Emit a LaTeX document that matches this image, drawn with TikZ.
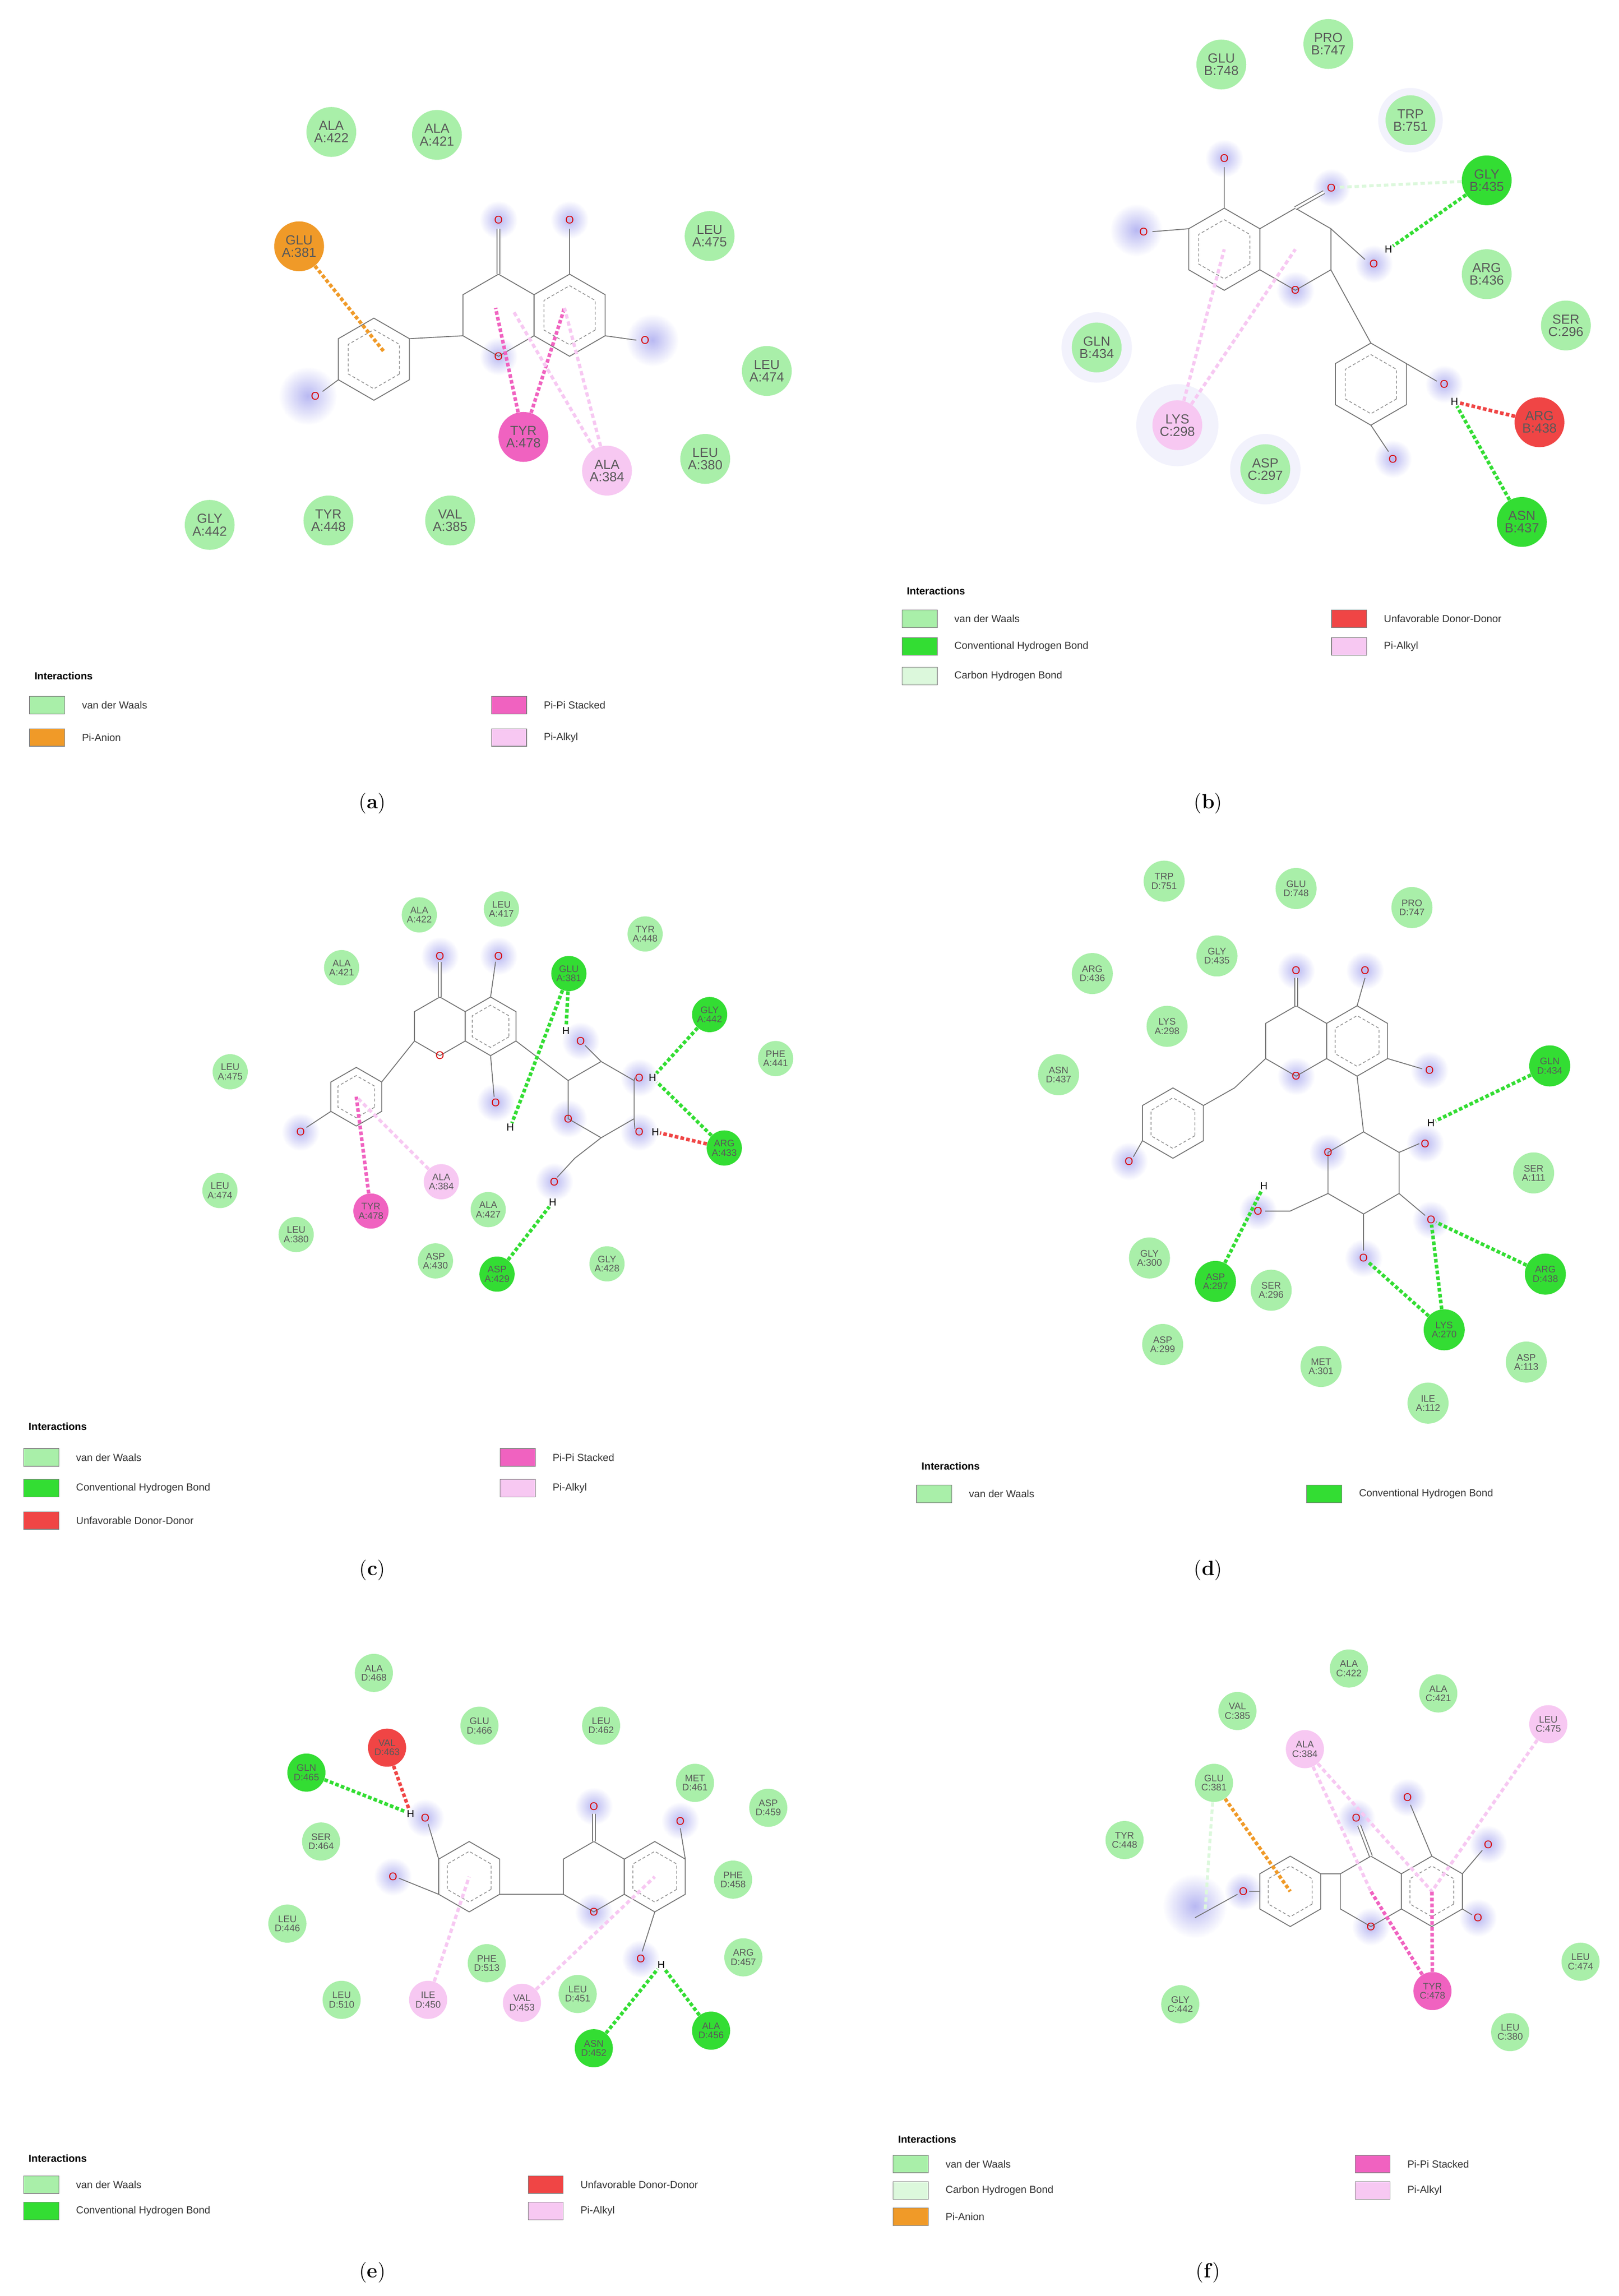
\documentclass[tikz,border=0pt]{standalone}
\usepackage{fontspec}
\setsansfont{Liberation Sans}
\usetikzlibrary{calc}
\definecolor{vdwc}{HTML}{A9EFA9}
\definecolor{hbc}{HTML}{33DD33}
\definecolor{chbc}{HTML}{DCF8DC}
\definecolor{pialk}{HTML}{F7C8F2}
\definecolor{pipi}{HTML}{F062C0}
\definecolor{anion}{HTML}{F09A28}
\definecolor{unfav}{HTML}{F04545}
\definecolor{halo}{HTML}{B8B8F2}
\tikzset{
 res/.style={circle,inner sep=0pt,minimum size=34pt,align=center,text=black!65,font=\sffamily\fontsize{9}{8.5}\selectfont},
 rs/.style={res,minimum size=#1pt,font=\sffamily\fontsize{6.5}{6.3}\selectfont},
 vdw/.style={fill=vdwc}, hb/.style={fill=hbc}, pa/.style={fill=pialk}, pp/.style={fill=pipi},
 an/.style={fill=anion}, uf/.style={fill=unfav}, ch/.style={fill=chbc},
 mol/.style={draw=black!55,line width=0.6pt},
 arom/.style={draw=black!45,line width=0.5pt,dash pattern=on 2pt off 1.5pt},
 atom/.style={text=red!85!black,font=\sffamily\fontsize{7.5}{7.5}\selectfont,inner sep=0.4pt},
 hat/.style={text=black,font=\sffamily\fontsize{7}{7}\selectfont,inner sep=0.4pt},
 lhb/.style={hbc,line width=2.4pt,dash pattern=on 2.5pt off 1.5pt},
 luf/.style={unfav,line width=2.4pt,dash pattern=on 2.5pt off 1.5pt},
 lpp/.style={pipi,line width=2.4pt,dash pattern=on 2.5pt off 1.5pt},
 lpa/.style={pialk,line width=2.2pt,dash pattern=on 3pt off 2pt},
 lan/.style={anion,line width=2.4pt,dash pattern=on 2.5pt off 1.5pt},
 lch/.style={chbc,line width=2pt,dash pattern=on 3pt off 2pt},
 legbox/.style={draw=black!50,minimum width=24pt,minimum height=12pt,inner sep=0pt,anchor=west},
 legtxt/.style={anchor=west,font=\sffamily\fontsize{7}{7}\selectfont,text=black!80},
 leghead/.style={anchor=west,font=\sffamily\bfseries\fontsize{7}{7}\selectfont},
 capt/.style={font=\fontsize{14}{14}\selectfont},
 glow/.style={inner color=halo,outer color=white}
}
\newcommand\ring[5]{\coordinate (#1) at (#2,#3);
 \draw[mol,shift={(#2,#3)}] (30:#4)--(90:#4)--(150:#4)--(210:#4)--(270:#4)--(330:#4)--cycle;
 \ifnum#5=1 \draw[arom,shift={(#2,#3)}] (30:{#4*0.72})--(90:{#4*0.72})--(150:{#4*0.72})--(210:{#4*0.72})--(270:{#4*0.72})--(330:{#4*0.72})--cycle;\fi}
\newcommand\hal[2]{\shade[glow] (#1,#2) circle (13);}
\newcommand\at[4]{\node[atom] (#1) at (#2,#3) {#4};}
\newcommand\hh[3]{\node[hat] (#1) at (#2,#3) {H};}
\newcommand\leg[4]{\node[legbox,fill=#3] (#1) at (#2) {}; \node[legtxt] (#1t) at ($(#1.east)+(8,0)$) {#4};}
\begin{document}
\begin{tikzpicture}[x=1pt,y=-1pt]
\useasboundingbox[fill=white] (0,0) rectangle (1104,1566);
% ================= (a)
\shade[glow] (210,270) circle (20); \shade[glow] (445,232) circle (18);
\foreach \x/\y in {340/150,388.5/150,340/243} {\hal{\x}{\y}}
\ring{aP}{255}{245}{28}{1}
\ring{aC}{340}{215}{28}{0}
\ring{aA}{388.5}{215}{28}{1}
\draw[mol] (279.2,231)--(315.8,229);
\draw[mol,double,double distance=1.5pt] (340,187)--(340,156);
\draw[mol] (388.5,187)--(388.5,156) (412.7,229)--(434,232) (230.8,259)--(220,267);
\at{aO1}{340}{150}{O}\at{aO2}{388.5}{150}{O}\at{aO3}{440}{232}{O}\at{aO4}{215}{270}{O}\at{aO5}{340}{243}{O}
\coordinate (aT1) at (262,240); \coordinate (aT2) at (338,210); \coordinate (aT3) at (385,210); \coordinate (aT4) at (350,212);
\node[res,vdw] (a422) at (226,90) {ALA\\A:422};
\node[res,vdw] (a421) at (298,92) {ALA\\A:421};
\node[res,an] (a381) at (204,168) {GLU\\A:381};
\node[res,vdw] (a475) at (484,161) {LEU\\A:475};
\node[res,vdw] (a474) at (523,253) {LEU\\A:474};
\node[res,vdw] (a380) at (481,313) {LEU\\A:380};
\node[res,pp] (a478) at (357,298) {TYR\\A:478};
\node[res,pa] (a384) at (414,321) {ALA\\A:384};
\node[res,vdw] (a442) at (143,358) {GLY\\A:442};
\node[res,vdw] (a448) at (224,355) {TYR\\A:448};
\node[res,vdw] (a385) at (307,355) {VAL\\A:385};
\draw[lan] (a381)--(aT1);
\draw[lpp] (a478)--(aT2); \draw[lpp] (a478)--(aT3);
\draw[lpa] (a384)--(aT3); \draw[lpa] (a384)--(aT4);
\node[leghead] (aI) at (20,461) {Interactions};
\leg{aL1}{20,481}{vdwc}{van der Waals}
\leg{aL2}{20,503}{anion}{Pi-Anion}
\leg{aL3}{335,481}{pipi}{Pi-Pi Stacked}
\leg{aL4}{335,503}{pialk}{Pi-Alkyl}
\node[capt] (capa) at (254,548) {(\textbf{a})};
% ================= (b)
\fill[halo,opacity=0.18] (962,82) circle (22); \fill[halo,opacity=0.18] (748,237) circle (24);
\fill[halo,opacity=0.18] (803,290) circle (28); \fill[halo,opacity=0.18] (863,320) circle (24);
\shade[glow] (775,157) circle (18);
\foreach \x/\y in {835/108,908/128,937/180,883.5/198,985/262,950/313} {\hal{\x}{\y}}
\ring{bA}{835}{170}{28}{1}
\ring{bC}{883.5}{170}{28}{0}
\ring{bP}{935}{262}{28}{1}
\draw[mol] (835,142)--(835,114) (810.8,156)--(786,158);
\draw[mol,double,double distance=1.5pt] (883.5,142)--(903,131);
\draw[mol] (907.7,156)--(931,177) (907.7,184)--(935,234) (959.2,248)--(980,260) (935,290)--(947,308);
\at{bO1}{835}{108}{O}\at{bO2}{780}{158}{O}\at{bO3}{908}{128}{O}\at{bO4}{937}{180}{O}\at{bO5}{883.5}{198}{O}\at{bO6}{985}{262}{O}\at{bO7}{950}{313}{O}
\hh{bH1}{947}{170}\hh{bH2}{992}{274}
\node[res,vdw] (b748) at (833,44) {GLU\\B:748};
\node[res,vdw] (b747) at (906,30) {PRO\\B:747};
\node[res,vdw] (b751) at (962,82) {TRP\\B:751};
\node[res,hb] (b435) at (1014,123) {GLY\\B:435};
\node[res,vdw] (b436) at (1014,187) {ARG\\B:436};
\node[res,vdw] (c296) at (1068,222) {SER\\C:296};
\node[res,vdw] (b434) at (748,237) {GLN\\B:434};
\node[res,pa] (c298) at (803,290) {LYS\\C:298};
\node[res,vdw] (c297) at (863,320) {ASP\\C:297};
\node[res,uf] (b438) at (1050,288) {ARG\\B:438};
\node[res,hb] (b437) at (1038,356) {ASN\\B:437};
\draw[lhb] (b435)--(bH1);
\draw[lch] (b435)--(bO3);
\draw[lpa] (c298)--(bA); \draw[lpa] (c298)--(bC);
\draw[luf] (b438)--(bH2);
\draw[lhb] (b437)--(bH2);
\node[leghead] (bI) at (615,403) {Interactions};
\leg{bL1}{615,422}{vdwc}{van der Waals}
\leg{bL2}{615,441}{hbc}{Conventional Hydrogen Bond}
\leg{bL3}{615,461}{chbc}{Carbon Hydrogen Bond}
\leg{bL4}{908,422}{unfav}{Unfavorable Donor-Donor}
\leg{bL5}{908,441}{pialk}{Pi-Alkyl}
\node[capt] (capb) at (824,548) {(\textbf{b})};
% ================= (c)
\foreach \x/\y in {300/652,340/652,205/772,338/752,396/710,436/735,436/772,378/806,387.5/763} {\hal{\x}{\y}}
\ring{cP}{243}{748}{20}{1}
\ring{cC}{300}{700}{20}{0}
\ring{cA}{334.6}{700}{20}{1}
\ring{cS}{410}{750}{26}{0}
\draw[mol,double,double distance=1.4pt] (300,680)--(300,656);
\draw[mol] (334.6,680)--(338,656) (282.7,710)--(260.3,738) (225.7,758)--(209,769) (334.6,720)--(337,748)
 (351.9,710)--(387.5,737) (410,724)--(399,713) (432.5,737)--(433,735) (432.5,763)--(433,770) (410,776)--(392,790)--(380,803);
\at{cO1}{300}{652}{O}\at{cO2}{340}{652}{O}\at{cO3}{205}{772}{O}\at{cO4}{338}{752}{O}\at{cO5}{396}{710}{O}
\at{cO6}{436}{735}{O}\at{cO7}{436}{772}{O}\at{cO8}{378}{806}{O}\at{cO9}{387.5}{763}{O}\at{cO10}{300}{720}{O}
\hh{cH1}{348}{769}\hh{cH2}{386}{703}\hh{cH3}{445}{735}\hh{cH4}{447}{772}\hh{cH5}{377}{820}
\node[rs=24,vdw] (c422) at (286,624) {ALA\\A:422};
\node[rs=24,vdw] (c417) at (342,620) {LEU\\A:417};
\node[rs=24,vdw] (c448) at (440,637) {TYR\\A:448};
\node[rs=24,vdw] (c421) at (233,660) {ALA\\A:421};
\node[rs=24,hb] (c381) at (388,664) {GLU\\A:381};
\node[rs=24,hb] (c442) at (484,692) {GLY\\A:442};
\node[rs=24,vdw] (c441) at (529,722) {PHE\\A:441};
\node[rs=24,vdw] (c475) at (157,731) {LEU\\A:475};
\node[rs=24,hb] (c433) at (494,783) {ARG\\A:433};
\node[rs=24,vdw] (c474) at (150,812) {LEU\\A:474};
\node[rs=24,pa] (c384) at (301,806) {ALA\\A:384};
\node[rs=24,pp] (c478) at (253,826) {TYR\\A:478};
\node[rs=24,vdw] (c427) at (333,825) {ALA\\A:427};
\node[rs=24,vdw] (c380) at (202,842) {LEU\\A:380};
\node[rs=24,vdw] (c430) at (297,860) {ASP\\A:430};
\node[rs=24,hb] (c429) at (339,869) {ASP\\A:429};
\node[rs=24,vdw] (c428) at (414,862) {GLY\\A:428};
\draw[lhb] (c381)--(cH1); \draw[lhb] (c381)--(cH2);
\draw[lhb] (c442)--(cH3); \draw[lhb] (c433)--(cH3); \draw[luf] (c433)--(cH4);
\draw[lhb] (c429)--(cH5);
\draw[lpp] (c478)--(cP); \draw[lpa] (c384)--(cP);
\node[leghead] (cI) at (16,973) {Interactions};
\leg{cL1}{16,994}{vdwc}{van der Waals}
\leg{cL2}{16,1015}{hbc}{Conventional Hydrogen Bond}
\leg{cL3}{16,1037}{unfav}{Unfavorable Donor-Donor}
\leg{cL4}{341,994}{pipi}{Pi-Pi Stacked}
\leg{cL5}{341,1015}{pialk}{Pi-Alkyl}
\node[capt] (capc) at (254,1071) {(\textbf{c})};
% ================= (d)
\foreach \x/\y in {884/662,931/662,975/730,770/792,972/780,976/832,930/858,858/826,905.8/786,884/734} {\hal{\x}{\y}}
\ring{dP}{800}{766}{24}{1}
\ring{dC}{884}{710}{24}{0}
\ring{dA}{925.6}{710}{24}{1}
\ring{dS}{930}{800}{28}{0}
\draw[mol,double,double distance=1.4pt] (884,686)--(884,667);
\draw[mol] (925.6,686)--(931,667) (946.4,722)--(970,729) (863.2,722)--(842,742)--(820.8,754) (779.2,778)--(773,789)
 (925.6,734)--(930,772) (954.2,786)--(968,780) (954.2,814)--(972,829) (930,828)--(930,853) (905.8,814)--(880,826)--(863,826);
\at{dO1}{884}{662}{O}\at{dO2}{931}{662}{O}\at{dO3}{975}{730}{O}\at{dO4}{770}{792}{O}\at{dO5}{972}{780}{O}
\at{dO6}{976}{832}{O}\at{dO7}{930}{858}{O}\at{dO8}{858}{826}{O}\at{dO9}{905.8}{786}{O}\at{dO10}{884}{734}{O}
\hh{dH1}{976}{766}\hh{dH2}{862}{809}
\node[rs=28,vdw] (d751) at (794,601) {TRP\\D:751};
\node[rs=28,vdw] (d748) at (884,606) {GLU\\D:748};
\node[rs=28,vdw] (d747) at (963,619) {PRO\\D:747};
\node[rs=28,vdw] (d436) at (745,664) {ARG\\D:436};
\node[rs=28,vdw] (d435) at (830,652) {GLY\\D:435};
\node[rs=28,vdw] (d298) at (796,700) {LYS\\A:298};
\node[rs=28,vdw] (d437) at (722,733) {ASN\\D:437};
\node[rs=28,hb] (d434) at (1057,727) {GLN\\D:434};
\node[rs=28,vdw] (d111) at (1046,800) {SER\\A:111};
\node[rs=28,vdw] (d300) at (784,858) {GLY\\A:300};
\node[rs=28,hb] (d297) at (829,874) {ASP\\A:297};
\node[rs=28,vdw] (d296) at (867,880) {SER\\A:296};
\node[rs=28,hb] (d438) at (1054,869) {ARG\\D:438};
\node[rs=28,hb] (d270) at (985,907) {LYS\\A:270};
\node[rs=28,vdw] (d299) at (793,917) {ASP\\A:299};
\node[rs=28,vdw] (d301) at (901,932) {MET\\A:301};
\node[rs=28,vdw] (d113) at (1041,929) {ASP\\A:113};
\node[rs=28,vdw] (d112) at (974,957) {ILE\\A:112};
\draw[lhb] (d434)--(dH1); \draw[lhb] (d297)--(dH2);
\draw[lhb] (d438)--(dO6); \draw[lhb] (d270)--(dO6); \draw[lhb] (d270)--(dO7);
\node[leghead] (dI) at (625,1000) {Interactions};
\leg{dL1}{625,1019}{vdwc}{van der Waals}
\leg{dL2}{891,1019}{hbc}{Conventional Hydrogen Bond}
\node[capt] (capd) at (824,1071) {(\textbf{d})};
% ================= (e)
\foreach \x/\y in {405/1232,464/1242,437/1336,290/1240,268/1280,405/1304} {\hal{\x}{\y}}
\ring{eP}{320}{1280}{24}{1}
\ring{eC}{405}{1280}{24}{0}
\ring{eA}{446.6}{1280}{24}{1}
\draw[mol,double,double distance=1.4pt] (405,1256)--(405,1237);
\draw[mol] (467.4,1268)--(464,1247) (446.6,1304)--(438,1331) (340.8,1292)--(384.2,1292) (299.2,1268)--(292,1244) (299.2,1292)--(272,1281);
\at{eO1}{405}{1232}{O}\at{eO2}{464}{1242}{O}\at{eO3}{437}{1336}{O}\at{eO4}{290}{1240}{O}\at{eO5}{268}{1280}{O}\at{eO6}{405}{1304}{O}
\hh{eH1}{280}{1237}\hh{eH2}{451}{1340}
\node[rs=26,vdw] (e468) at (255,1141) {ALA\\D:468};
\node[rs=26,vdw] (e466) at (327,1177) {GLU\\D:466};
\node[rs=26,vdw] (e462) at (410,1177) {LEU\\D:462};
\node[rs=26,uf] (e463) at (264,1192) {VAL\\D:463};
\node[rs=26,hb] (e465) at (209,1209) {GLN\\D:465};
\node[rs=26,vdw] (e461) at (474,1216) {MET\\D:461};
\node[rs=26,vdw] (e459) at (524,1233) {ASP\\D:459};
\node[rs=26,vdw] (e464) at (219,1256) {SER\\D:464};
\node[rs=26,vdw] (e458) at (500,1282) {PHE\\D:458};
\node[rs=26,vdw] (e446) at (196,1312) {LEU\\D:446};
\node[rs=26,vdw] (e457) at (507,1335) {ARG\\D:457};
\node[rs=26,vdw] (e513) at (332,1339) {PHE\\D:513};
\node[rs=26,vdw] (e451) at (394,1360) {LEU\\D:451};
\node[rs=26,pa] (e450) at (292,1364) {ILE\\D:450};
\node[rs=26,pa] (e453) at (356,1366) {VAL\\D:453};
\node[rs=26,vdw] (e510) at (233,1364) {LEU\\D:510};
\node[rs=26,hb] (e452) at (405,1397) {ASN\\D:452};
\node[rs=26,hb] (e456) at (485,1385) {ALA\\D:456};
\draw[lhb] (e465)--(eH1); \draw[luf] (e463)--(eH1);
\draw[lpa] (e450)--(eP); \draw[lpa] (e453)--(eA);
\draw[lhb] (e452)--(eH2); \draw[lhb] (e456)--(eH2);
\node[leghead] (eI) at (16,1472) {Interactions};
\leg{eL1}{16,1490}{vdwc}{van der Waals}
\leg{eL2}{16,1508}{hbc}{Conventional Hydrogen Bond}
\leg{eL3}{360,1490}{unfav}{Unfavorable Donor-Donor}
\leg{eL4}{360,1508}{pialk}{Pi-Alkyl}
\node[capt] (cape) at (254,1550) {(\textbf{e})};
% ================= (f)
\shade[glow] (815,1300) circle (22);
\foreach \x/\y in {925/1240,960/1226,1015/1258,1008/1308,848/1290,935/1314} {\hal{\x}{\y}}
\ring{fP}{880}{1290}{24}{1}
\ring{fC}{935}{1290}{24}{0}
\ring{fA}{976.6}{1290}{24}{1}
\draw[mol] (900.8,1278)--(914.2,1278) (859.2,1290)--(852,1290) (844,1292)--(815,1308) (976.6,1266)--(962,1231) (997.4,1278)--(1011,1262) (997.4,1302)--(1004,1306);
\draw[mol,double,double distance=1.4pt] (935,1266)--(927,1245);
\at{fO1}{925}{1240}{O}\at{fO2}{960}{1226}{O}\at{fO3}{1015}{1258}{O}\at{fO4}{1008}{1308}{O}\at{fO5}{848}{1290}{O}\at{fO6}{935}{1314}{O}
\coordinate (fM) at (822,1302);
\node[rs=26,vdw] (f422) at (920,1138) {ALA\\C:422};
\node[rs=26,vdw] (f421) at (981,1155) {ALA\\C:421};
\node[rs=26,vdw] (f385) at (844,1167) {VAL\\C:385};
\node[rs=26,pa] (f475) at (1056,1176) {LEU\\C:475};
\node[rs=26,pa] (f384) at (890,1193) {ALA\\C:384};
\node[rs=26,vdw] (f381) at (828,1216) {GLU\\C:381};
\node[rs=26,vdw] (f448) at (767,1255) {TYR\\C:448};
\node[rs=26,vdw] (f474) at (1078,1338) {LEU\\C:474};
\node[rs=26,pp] (f478) at (977,1358) {TYR\\C:478};
\node[rs=26,vdw] (f442) at (805,1367) {GLY\\C:442};
\node[rs=26,vdw] (f380) at (1030,1386) {LEU\\C:380};
\draw[lan] (f381)--(fP); \draw[lch] (f381)--(fM);
\draw[lpa] (f384)--(fA); \draw[lpa] (f384)--(fC); \draw[lpa] (f475)--(fA);
\draw[lpp] (f478)--(fA); \draw[lpp] (f478)--(fC);
\node[leghead] (fI) at (609,1459) {Interactions};
\leg{fL1}{609,1476}{vdwc}{van der Waals}
\leg{fL2}{609,1494}{chbc}{Carbon Hydrogen Bond}
\leg{fL3}{609,1512}{anion}{Pi-Anion}
\leg{fL4}{924,1476}{pipi}{Pi-Pi Stacked}
\leg{fL5}{924,1494}{pialk}{Pi-Alkyl}
\node[capt] (capf) at (824,1550) {(\textbf{f})};
\end{tikzpicture}
\end{document}
